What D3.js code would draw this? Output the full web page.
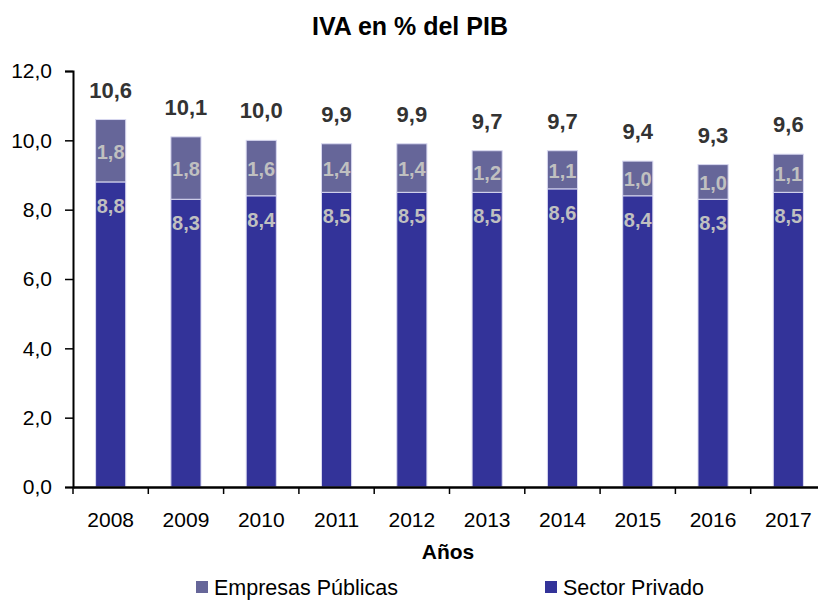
<!DOCTYPE html>
<html><head><meta charset="utf-8">
<script src="https://cdn.jsdelivr.net/npm/d3@7"></script>
<style>body{margin:0;background:#fff}svg{font-family:"Liberation Sans",Arial,sans-serif}</style>
</head><body>
<svg id="c" width="818" height="600"></svg>
<script>
const years = ["2008","2009","2010","2011","2012","2013","2014","2015","2016","2017"];
const sectorPrivado = [8.8,8.3,8.4,8.5,8.5,8.5,8.6,8.4,8.3,8.5];
const empresasPublicas = [1.8,1.8,1.6,1.4,1.4,1.2,1.1,1.0,1.0,1.1];
const yTicks = [0,2,4,6,8,10,12];
const seriesNames = ["Empresas Públicas","Sector Privado"];
const seriesColors = ["#666699","#333399"];

const svg = d3.select("#c");
const FF = "Liberation Sans, Arial, sans-serif";
const fmt = v => v.toFixed(1).replace(".", ",");
const x = d3.scaleBand().domain(years).range([73, 826]).paddingInner(0.6).paddingOuter(0.3);
const y = d3.scaleLinear().domain([0, 12]).range([487, 71]);

const data = years.map((yr, i) => ({yr, sp: sectorPrivado[i], ep: empresasPublicas[i], tot: sectorPrivado[i] + empresasPublicas[i]}));

// title
svg.append("text").attr("x", 410).attr("y", 35).attr("text-anchor", "middle")
  .attr("font-weight", "bold").attr("font-size", 25).attr("fill", "#000").text("IVA en % del PIB");

// bars
const g = svg.append("g");
g.selectAll("rect.sp").data(data).join("rect")
  .attr("x", d => x(d.yr)).attr("width", x.bandwidth())
  .attr("y", d => y(d.sp)).attr("height", d => y(0) - y(d.sp))
  .attr("fill", seriesColors[1]).attr("stroke", "#d8d8f0").attr("stroke-width", 1);
g.selectAll("rect.ep").data(data).join("rect")
  .attr("x", d => x(d.yr)).attr("width", x.bandwidth())
  .attr("y", d => y(d.tot)).attr("height", d => y(d.sp) - y(d.tot))
  .attr("fill", seriesColors[0]).attr("stroke", "#d8d8f0").attr("stroke-width", 1);

// inner labels
g.selectAll("text.ep").data(data).join("text")
  .attr("x", d => x(d.yr) + x.bandwidth() / 2)
  .attr("y", d => (y(d.sp) + y(d.tot)) / 2 + 8)
  .attr("text-anchor", "middle").attr("font-weight", "bold").attr("font-size", 20)
  .attr("fill", "#c0c0c0").text(d => fmt(d.ep));
g.selectAll("text.sp").data(data).join("text")
  .attr("x", d => x(d.yr) + x.bandwidth() / 2)
  .attr("y", d => y(d.sp) + 31)
  .attr("text-anchor", "middle").attr("font-weight", "bold").attr("font-size", 20)
  .attr("fill", "#c0c0c0").text(d => fmt(d.sp));
g.selectAll("text.tot").data(data).join("text")
  .attr("x", d => x(d.yr) + x.bandwidth() / 2)
  .attr("y", d => y(d.tot) - 22)
  .attr("text-anchor", "middle").attr("font-weight", "bold").attr("font-size", 22)
  .attr("fill", "#333333").text(d => fmt(d.tot));

// y axis
const ya = svg.append("g").attr("transform", "translate(73,0)")
  .call(d3.axisLeft(y).tickValues(yTicks).tickFormat(fmt).tickSize(8).tickPadding(13));
ya.select(".domain").attr("stroke", "#000").attr("stroke-width", 2);
ya.selectAll(".tick line").attr("stroke", "#000").attr("stroke-width", 1.5);
ya.selectAll("text").attr("font-size", 21).attr("fill", "#000").attr("font-family", FF);

// x axis
const xa = svg.append("g").attr("transform", "translate(0,487)")
  .call(d3.axisBottom(x).tickSize(0).tickPadding(25));
xa.select(".domain").attr("stroke", "#000").attr("stroke-width", 2.5);
xa.selectAll("text").attr("font-size", 21).attr("fill", "#000").attr("font-family", FF);
const step = x.step();
const bounds = years.map(d => x(d) - (step - x.bandwidth()) / 2);
xa.selectAll("line.sep").data(bounds).join("line")
  .attr("x1", d => d).attr("x2", d => d).attr("y1", 0).attr("y2", 7)
  .attr("stroke", "#000").attr("stroke-width", 1.5);

// axis title
svg.append("text").attr("x", 448).attr("y", 559).attr("text-anchor", "middle")
  .attr("font-weight", "bold").attr("font-size", 21).attr("fill", "#000").text("Años");

// legend
const legX = [196, 545];
const leg = svg.selectAll("g.leg").data(seriesNames).join("g")
  .attr("transform", (d, i) => `translate(${legX[i]},581)`);
leg.append("rect").attr("x", 0).attr("y", 0).attr("width", 12).attr("height", 12)
  .attr("fill", (d, i) => seriesColors[i]);
leg.append("text").attr("x", 18).attr("y", 14).attr("font-size", 21.5).attr("fill", "#000").text(d => d);
</script>
</body></html>
